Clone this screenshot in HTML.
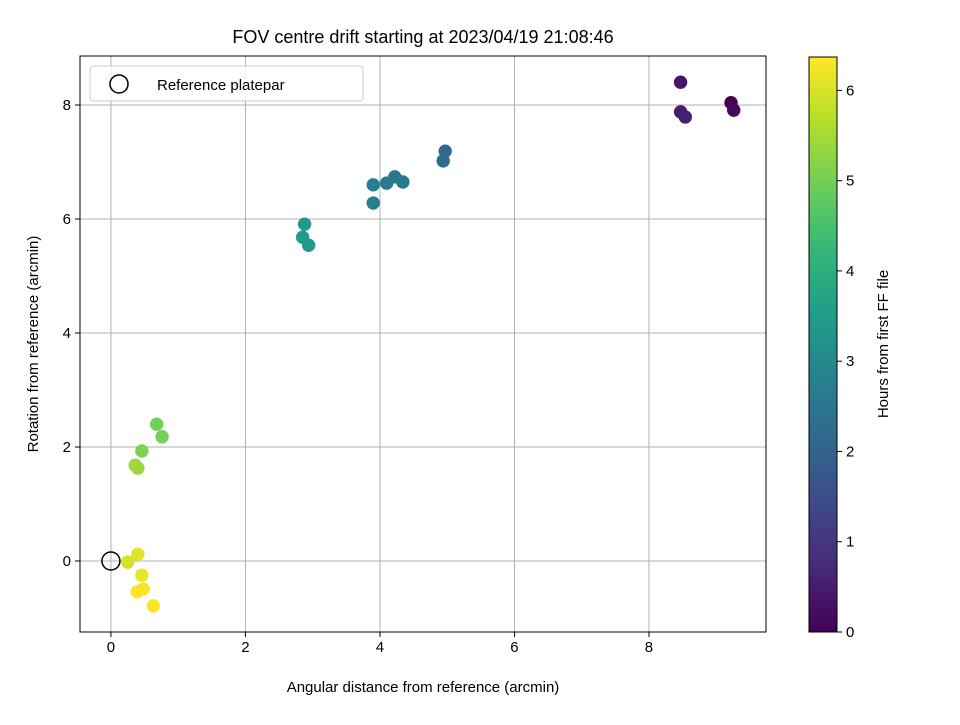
<!DOCTYPE html>
<html><head><meta charset="utf-8"><style>
body{margin:0;background:#fff}
svg text{font-family:"Liberation Sans","DejaVu Sans",sans-serif;fill:#000}
</style></head><body>
<svg id="c" width="960" height="720" xmlns="http://www.w3.org/2000/svg"></svg>
<script>
const xs=[9.22,9.26,8.47,8.47,8.54,4.97,4.94,4.22,4.10,4.34,3.90,3.90,2.88,2.85,2.94,0.68,0.76,0.46,0.36,0.40,0.40,0.25,0.46,0.39,0.48,0.63];
const ys=[8.04,7.91,8.40,7.88,7.79,7.19,7.02,6.74,6.63,6.65,6.60,6.28,5.91,5.68,5.54,2.40,2.18,1.93,1.68,1.63,0.12,-0.02,-0.25,-0.54,-0.49,-0.79];
const hours=[0.0,0.1,0.4,0.5,0.55,2.1,2.2,2.5,2.6,2.55,2.7,2.75,3.4,3.5,3.45,5.0,5.0,5.1,5.4,5.4,6.1,6.0,6.2,6.3,6.3,6.35];
const xTicks=[0,2,4,6,8];
const yTicks=[0,2,4,6,8];
const cTicks=[0,1,2,3,4,5,6];
const NS="http://www.w3.org/2000/svg";
const svg=document.getElementById('c');
const L=80,R=766,T=56,B=632;
const xmin=-0.46,xmax=9.74,ymin=-1.246,ymax=8.86,cmax=6.37;
const X=v=>L+(v-xmin)/(xmax-xmin)*(R-L);
const Y=v=>B-(v-ymin)/(ymax-ymin)*(B-T);
const CY=v=>632-v/cmax*(632-57);
function el(t,a,p){const e=document.createElementNS(NS,t);for(const k in a)e.setAttribute(k,a[k]);(p||svg).appendChild(e);return e;}
const vir=[[68,1,84],[72,40,120],[62,74,137],[49,104,142],[38,130,142],[31,158,137],[53,183,121],[110,206,88],[181,222,43],[253,231,37]];
function cmap(t){t=Math.max(0,Math.min(1,t))*9;const i=Math.min(8,Math.floor(t)),f=t-i;const a=vir[i],b=vir[i+1];return `rgb(${a.map((v,k)=>Math.round(v+(b[k]-v)*f)).join(',')})`;}
// grid
xTicks.forEach(v=>{const g=el('line',{x1:X(v),x2:X(v),y1:T,y2:B,stroke:'#b0b0b0','stroke-width':1});
const t=el('line',{x1:X(v),x2:X(v),y1:B,y2:B+5,stroke:'#000'});
const l=el('text',{x:X(v),y:B+20,'font-size':15,'text-anchor':'middle'});l.textContent=v;});
yTicks.forEach(v=>{const g=el('line',{x1:L,x2:R,y1:Y(v),y2:Y(v),stroke:'#b0b0b0','stroke-width':1});
const t=el('line',{x1:L-5,x2:L,y1:Y(v),y2:Y(v),stroke:'#000'});
const l=el('text',{x:L-9,y:Y(v)+5,'font-size':15,'text-anchor':'end'});l.textContent=v;});
// points
xs.forEach((v,i)=>{const c=el('circle',{cx:X(v),cy:Y(ys[i]),r:6.7,fill:cmap(hours[i]/cmax)});});
const ref=el('circle',{cx:X(0),cy:Y(0),r:9,fill:'none',stroke:'#000','stroke-width':1.5});
const fr=el('rect',{x:L,y:T,width:R-L,height:B-T,fill:'none',stroke:'#000','stroke-width':1});
// legend
const lg=el('g',{});
el('rect',{x:90,y:66,width:273,height:35,rx:3,fill:'#fff','fill-opacity':0.8,stroke:'#ccc'},lg);
el('circle',{cx:119,cy:84,r:9,fill:'none',stroke:'#000','stroke-width':1.5},lg);
const lt=el('text',{x:157,y:90,'font-size':15},lg);lt.textContent='Reference platepar';
// titles
const tt=el('text',{x:423,y:43,'font-size':18,'text-anchor':'middle'});tt.textContent='FOV centre drift starting at 2023/04/19 21:08:46';
const xt=el('text',{x:423,y:692,'font-size':15,'text-anchor':'middle'});xt.textContent='Angular distance from reference (arcmin)';
const yt=el('text',{x:0,y:0,'font-size':15,'text-anchor':'middle',transform:`translate(38,344) rotate(-90)`});yt.textContent='Rotation from reference (arcmin)';
// colorbar
const defs=el('defs',{});const gr=el('linearGradient',{id:'vg',x1:0,y1:1,x2:0,y2:0},defs);
vir.forEach((c,i)=>el('stop',{offset:i/9,'stop-color':`rgb(${c.join(',')})`},gr));
const cb=el('rect',{x:809,y:57,width:28,height:575,fill:'url(#vg)',stroke:'#000','stroke-width':1});
cTicks.forEach(v=>{const t=el('line',{x1:837,x2:842,y1:CY(v),y2:CY(v),stroke:'#000'});
const l=el('text',{x:846,y:CY(v)+5,'font-size':15});l.textContent=v;});
const ct=el('text',{x:0,y:0,'font-size':15,'text-anchor':'middle',transform:`translate(888,344) rotate(-90)`});ct.textContent='Hours from first FF file';
</script>
</body></html>
